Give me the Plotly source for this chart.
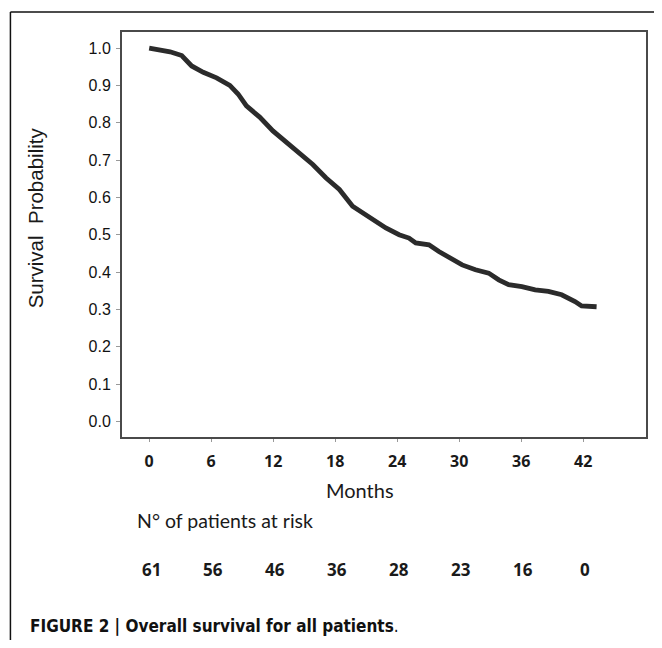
import plotly.graph_objects as go

# Kaplan-Meier curve
months = [0.0, 1.06, 2.02, 3.15, 4.11, 5.23, 6.52, 7.80, 8.60, 9.41, 10.69, 11.97,
          13.27, 14.55, 15.83, 17.12, 18.40, 19.68, 20.65, 21.61, 22.90, 24.18,
          25.14, 25.79, 27.07, 28.03, 29.32, 30.28, 31.57, 32.85, 33.82, 34.78,
          36.06, 37.35, 38.63, 39.91, 41.20, 41.84, 43.29]
survival = [1.0, 0.995, 0.99, 0.98, 0.952, 0.935, 0.92, 0.90, 0.877, 0.845, 0.815, 0.778,
            0.747, 0.72, 0.688, 0.652, 0.621, 0.576, 0.558, 0.540, 0.518, 0.50,
            0.491, 0.478, 0.473, 0.455, 0.433, 0.419, 0.406, 0.397, 0.379, 0.366,
            0.361, 0.352, 0.348, 0.339, 0.321, 0.309, 0.307]

x_ticks = [0, 6, 12, 18, 24, 30, 36, 42]
y_ticks = [0.0, 0.1, 0.2, 0.3, 0.4, 0.5, 0.6, 0.7, 0.8, 0.9, 1.0]
at_risk = [61, 56, 46, 36, 28, 23, 16, 0]

OFF = 8  # default page margin of the html body
W, H = 662 - 2 * OFF, 648 - 2 * OFF
# plot area in page pixels: x 122..648, y 32..437
L, T = 122 - OFF, 32 - OFF
R = W - (648 - OFF)
B = H - (437 - OFF)
PW, PH = W - L - R, H - T - B


def px(xp):  # page pixel -> paper x
    return (xp - OFF - L) / PW


def py(yp):  # page pixel -> paper y
    return (H - B - (yp - OFF)) / PH


fig = go.Figure()
fig.add_trace(go.Scatter(
    x=months, y=survival, mode="lines",
    line=dict(color="#2b2b2b", width=4.8),
    hoverinfo="skip", showlegend=False,
))

fig.update_layout(
    width=W, height=H,
    margin=dict(l=L, r=R, t=T, b=B, pad=0),
    paper_bgcolor="white", plot_bgcolor="white",
    showlegend=False,
    xaxis=dict(
        range=[-2.63, 48.07], tickvals=x_ticks, ticktext=[str(v) for v in x_ticks],
        ticks="outside", ticklen=3, tickcolor="#999", tickwidth=1,
        showgrid=False, zeroline=False,
        showline=True, mirror=True, linecolor="#4a4a4a", linewidth=2,
        tickfont=dict(family="Open Sans", size=16, color="#1a1a1a", weight="bold"),
        ticklabelstandoff=6,
    ),
    yaxis=dict(
        range=[-0.042, 1.043], tickvals=y_ticks,
        ticktext=[f"{v:.1f}" for v in y_ticks],
        ticks="outside", ticklen=4, tickcolor="#999", tickwidth=1,
        showgrid=False, zeroline=False,
        showline=True, mirror=True, linecolor="#4a4a4a", linewidth=2,
        tickfont=dict(family="Liberation Sans", size=16, color="#111"),
        ticklabelstandoff=2,
    ),
)

annotations = [
    dict(text="Survival  Probability", x=px(35), y=py(218), xref="paper", yref="paper",
         textangle=-90, showarrow=False, xanchor="center", yanchor="middle",
         font=dict(family="Liberation Sans", size=20.5, color="#1a1a1a")),
    dict(text="Months", x=px(361), y=py(490), xref="paper", yref="paper",
         showarrow=False, xanchor="center", yanchor="middle",
         font=dict(family="Lato", size=20, color="#1a1a1a")),
    dict(text="N° of patients at risk", x=px(135), y=py(520), xref="paper", yref="paper",
         showarrow=False, xanchor="left", yanchor="middle",
         font=dict(family="Lato", size=19.5, color="#1a1a1a")),
    dict(text="<b>FIGURE 2 | Overall survival for all patients</b>.", x=px(28), y=py(626),
         xref="paper", yref="paper", showarrow=False, xanchor="left", yanchor="middle",
         font=dict(family="Liberation Sans Narrow, DejaVu Sans Condensed", size=17, color="#111")),
]
for m, n in zip(x_ticks, at_risk):
    annotations.append(dict(
        text=str(n), x=m, y=py(569), xref="x", yref="paper", xshift=2,
        showarrow=False, xanchor="center", yanchor="middle",
        font=dict(family="Open Sans", size=17, color="#1a1a1a", weight="bold")))
fig.update_layout(annotations=annotations)

# outer figure frame (open to the right and bottom)
fig.add_shape(type="line", xref="paper", yref="paper",
              x0=px(10), y0=py(12), x1=px(670), y1=py(12),
              line=dict(color="#111", width=1.5))
fig.add_shape(type="line", xref="paper", yref="paper",
              x0=px(10), y0=py(12), x1=px(10), y1=py(660),
              line=dict(color="#111", width=1.5))

fig.write_html("out.html", config={"displayModeBar": False})
